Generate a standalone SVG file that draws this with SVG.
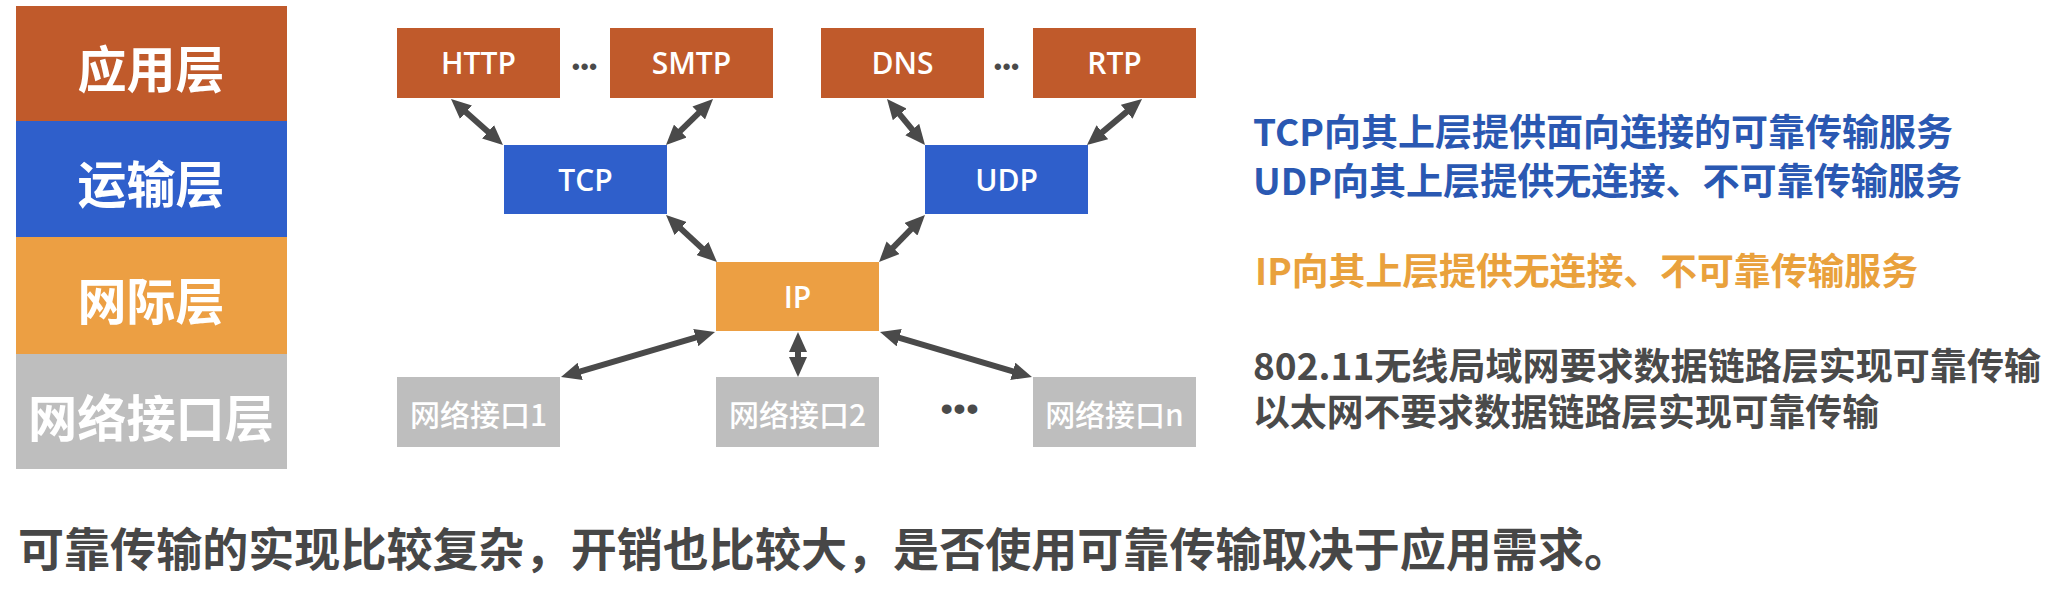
<svg xmlns="http://www.w3.org/2000/svg" width="2058" height="596" viewBox="0 0 2058 596">
<defs>
<style>
.layer{font-family:"Noto Sans CJK SC","Noto Sans",sans-serif;font-weight:700;font-size:50px;fill:#fff;text-anchor:middle;dominant-baseline:central}
.box text{font-family:"Open Sans","Noto Sans CJK SC",sans-serif;font-weight:600;font-size:30px;fill:#fff;text-anchor:middle}
.ni text{font-family:"Noto Sans CJK SC","Noto Sans",sans-serif;font-weight:500;font-size:30px;fill:#fff;text-anchor:middle;dominant-baseline:central}
.app{fill:#C05A2B}.tr{fill:#2F5FCB}.net{fill:#EC9F43}.link{fill:#BEBEBE}
.note{font-family:"Noto Sans CJK SC","Noto Sans",sans-serif;font-weight:700;font-size:37px;dominant-baseline:central}
.blue{fill:#2A58B2}.orange{fill:#E9A13C}.gray{fill:#4A4A4A}
.dots{font-family:"Liberation Sans",sans-serif;font-weight:700;fill:#4A4A4A;text-anchor:middle}
.conn line{stroke:#4A4A4A;stroke-width:6;marker-start:url(#ah);marker-end:url(#ah)}
</style>
<marker id="ah" viewBox="0 0 20 18" markerUnits="userSpaceOnUse" markerWidth="20" markerHeight="18" refX="12" refY="9" orient="auto-start-reverse">
<path d="M0,0 L20,9 L0,18 z" fill="#4A4A4A"/>
</marker>
</defs>
<rect width="2058" height="596" fill="#ffffff"/>

<g id="layers">
<g id="layer-app"><rect class="app" x="16" y="6" width="271" height="116"/><text class="layer" x="151" y="66" textLength="147" lengthAdjust="spacingAndGlyphs">应用层</text></g>
<g id="layer-transport"><rect class="tr" x="16" y="121" width="271" height="117"/><text class="layer" x="151" y="181" textLength="147" lengthAdjust="spacingAndGlyphs">运输层</text></g>
<g id="layer-internet"><rect class="net" x="16" y="237" width="271" height="118"/><text class="layer" x="151" y="298" textLength="147" lengthAdjust="spacingAndGlyphs">网际层</text></g>
<g id="layer-link"><rect class="link" x="16" y="354" width="271" height="115"/><text class="layer" x="151" y="415" textLength="246" lengthAdjust="spacingAndGlyphs">网络接口层</text></g>
</g>

<g id="connectors" class="conn">
<line x1="457" y1="104.3" x2="497" y2="139.7"/>
<line x1="707.3" y1="104.6" x2="671.7" y2="139.4"/>
<line x1="892.1" y1="105.2" x2="919.9" y2="138.8"/>
<line x1="1135.9" y1="104.1" x2="1093.1" y2="139.9"/>
<line x1="671.9" y1="220.4" x2="711.1" y2="256.6"/>
<line x1="919.4" y1="220.7" x2="884.6" y2="256.3"/>
<line x1="707.3" y1="334.2" x2="568.7" y2="374.8"/>
<line x1="798" y1="340" x2="798" y2="369"/>
<line x1="887.7" y1="334.3" x2="1024.3" y2="374.7"/>
</g>

<g id="http" class="box"><rect class="app" x="397" y="28" width="163" height="70"/><text x="478.5" y="74">HTTP</text></g>
<g id="smtp" class="box"><rect class="app" x="610" y="28" width="163" height="70"/><text x="691.5" y="74">SMTP</text></g>
<g id="dns" class="box"><rect class="app" x="821" y="28" width="163" height="70"/><text x="902.5" y="74">DNS</text></g>
<g id="rtp" class="box"><rect class="app" x="1033" y="28" width="163" height="70"/><text x="1114.5" y="74">RTP</text></g>
<g id="tcp" class="box"><rect class="tr" x="504" y="145" width="163" height="69"/><text x="585.5" y="190.5">TCP</text></g>
<g id="udp" class="box"><rect class="tr" x="925" y="145" width="163" height="69"/><text x="1006.5" y="190.5">UDP</text></g>
<g id="ip" class="box"><rect class="net" x="716" y="262" width="163" height="69"/><text x="797.5" y="307.5">IP</text></g>
<g id="ni1" class="ni"><rect class="link" x="397" y="377" width="163" height="70"/><text x="478.5" y="413">网络接口1</text></g>
<g id="ni2" class="ni"><rect class="link" x="716" y="377" width="163" height="70"/><text x="797.5" y="413">网络接口2</text></g>
<g id="nin" class="ni"><rect class="link" x="1033" y="377" width="163" height="70"/><text x="1114.5" y="413">网络接口n</text></g>

<g id="ellipses">
<text class="dots" x="585" y="74" font-size="22" letter-spacing="1">•••</text>
<text class="dots" x="1007" y="74" font-size="22" letter-spacing="1">•••</text>
<text class="dots" x="960" y="420" font-size="34" letter-spacing="1">•••</text>
</g>

<g id="notes">
<text class="note blue" x="1253" y="130" textLength="700" lengthAdjust="spacingAndGlyphs">TCP向其上层提供面向连接的可靠传输服务</text>
<text class="note blue" x="1253" y="179" textLength="709" lengthAdjust="spacingAndGlyphs">UDP向其上层提供无连接、不可靠传输服务</text>
<text class="note orange" x="1255" y="269" textLength="663" lengthAdjust="spacingAndGlyphs">IP向其上层提供无连接、不可靠传输服务</text>
<text class="note gray" x="1253" y="364" textLength="788" lengthAdjust="spacingAndGlyphs">802.11无线局域网要求数据链路层实现可靠传输</text>
<text class="note gray" x="1253" y="410" textLength="626" lengthAdjust="spacingAndGlyphs">以太网不要求数据链路层实现可靠传输</text>
</g>

<text id="summary" x="18" y="546" font-family="Noto Sans CJK SC, Noto Sans, sans-serif" font-weight="700" font-size="46" fill="#474747" dominant-baseline="central" textLength="1612" lengthAdjust="spacingAndGlyphs">可靠传输的实现比较复杂，开销也比较大，是否使用可靠传输取决于应用需求。</text>
</svg>
